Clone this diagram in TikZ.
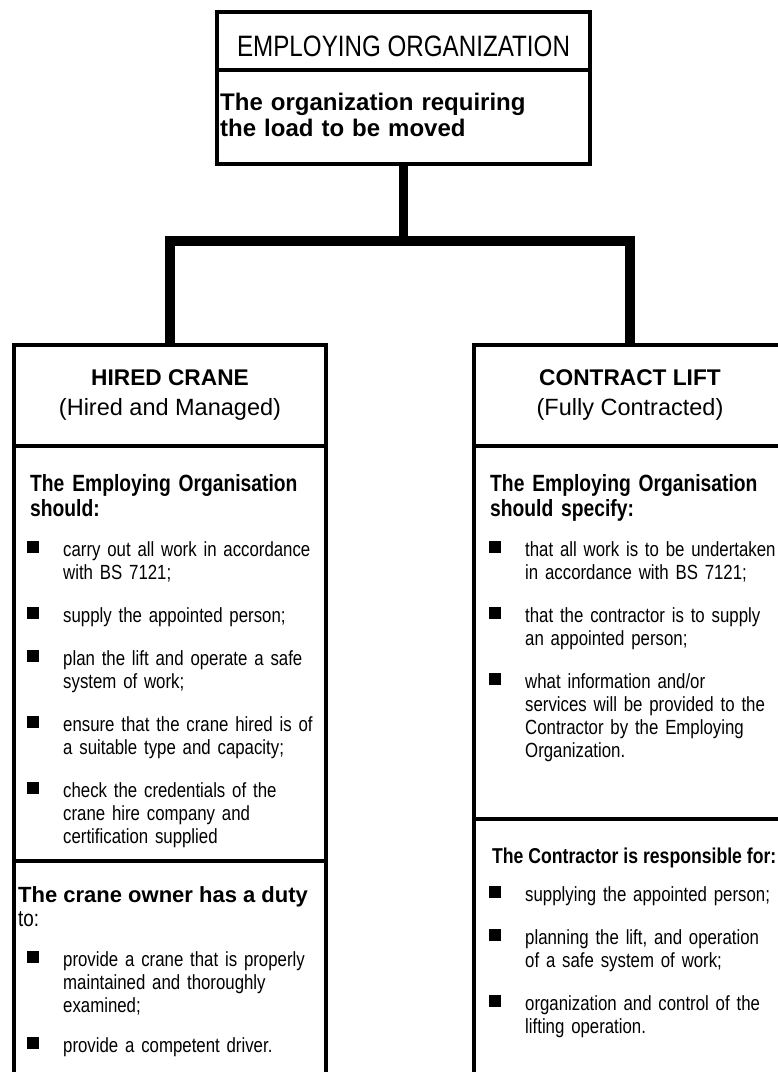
\documentclass[tikz,border=0pt]{standalone}
\usepackage{fontspec}
\setmainfont{Liberation Sans}
\newfontfamily\narrowsf[FakeStretch=0.82,WordSpace=0.8]{Liberation Sans}
\newfontfamily\titlesf[FakeStretch=0.82]{Liberation Sans}
\newcommand{\fsz}[2]{\fontsize{#1}{#2}\selectfont}
% square bullet and its text
\newcommand{\sqitem}[4]{%
  \fill (#2-36,#3-15) rectangle ++(12,12);
  \node[item] (#1) at (#2,#3) {#4};}
\begin{document}
\begin{tikzpicture}[x=1pt,y=-1pt,line join=miter,
  box/.style={draw,line width=4pt,inner sep=0pt},
  rule/.style={line width=4pt},
  link/.style={line width=9.5pt},
  item/.style={anchor=base west,inner sep=0pt,text width=280pt,align=left,font=\narrowsf\fsz{20.5}{23}},
  lead/.style={anchor=base west,inner sep=0pt,text width=290pt,align=left,font=\narrowsf\bfseries\fsz{23.5}{25}},
  head/.style={anchor=base,inner sep=0pt,font=\bfseries\fsz{22.7}{26}},
  sub/.style={anchor=base,inner sep=0pt,font=\fsz{23.5}{26}}]
\useasboundingbox (0,0) rectangle (778,1072);
% boxes
\node[box,minimum width=373pt,minimum height=152pt] (emp) at (403.5,88) {};
\node[box,minimum width=312pt,minimum height=760pt] (hired) at (170,725) {};
\node[box,minimum width=312pt,minimum height=760pt] (contract) at (630,725) {};
% connectors
\coordinate (fork) at (403.5,241);
\draw[link] (emp.south) -- (fork);
\draw[link,line width=10pt] (hired.north) |- (fork) -| (contract.north);
% dividers
\coordinate (d0) at (0,70);
\coordinate (d1) at (0,446);
\coordinate (d2) at (0,861);
\coordinate (d3) at (0,819);
\draw[rule] (emp.west |- d0) -- (emp.east |- d0);
\draw[rule] (hired.west |- d1) -- (hired.east |- d1);
\draw[rule] (contract.west |- d1) -- (contract.east |- d1);
\draw[rule] (hired.west |- d2) -- (hired.east |- d2);
\draw[rule] (contract.west |- d3) -- (contract.east |- d3);
% top box
\node[anchor=base,inner sep=0pt,font=\titlesf\fsz{29.5}{32}] (title) at (403.5,56) {EMPLOYING ORGANIZATION};
\node[anchor=base west,inner sep=0pt,text width=350pt,align=left,font=\bfseries\fsz{24}{26}] (purpose) at (220,110) {The organization requiring\\the load to be moved};
% hired crane
\node[head] (hiredhd) at (170,385) {HIRED CRANE};
\node[sub] (hiredsub) at (170,415) {(Hired and Managed)};
\node[lead] (hiredlead) at (30,491) {The Employing Organisation\\should:};
\sqitem{h1}{63}{556}{carry out all work in accordance\\with BS 7121;}
\sqitem{h2}{63}{622}{supply the appointed person;}
\sqitem{h3}{63}{665}{plan the lift and operate a safe\\system of work;}
\sqitem{h4}{63}{731}{ensure that the crane hired is of\\a suitable type and capacity;}
\sqitem{h5}{63}{797}{check the credentials of the\\crane hire company and\\certification supplied}
\node[anchor=base west,inner sep=0pt,font=\bfseries\fsz{22}{24}] (owner) at (18,902) {The crane owner has a duty};
\node[anchor=base west,inner sep=0pt,font=\narrowsf\fsz{23}{24}] (ownerto) at (18,926) {to:};
\sqitem{o1}{63}{966}{provide a crane that is properly\\maintained and thoroughly\\examined;}
\sqitem{o2}{63}{1052}{provide a competent driver.}
% contract lift
\node[head] (contracthd) at (630,385) {CONTRACT LIFT};
\node[sub] (contractsub) at (630,415) {(Fully Contracted)};
\node[lead] (contractlead) at (490,491) {The Employing Organisation\\should specify:};
\sqitem{c1}{525}{556}{that all work is to be undertaken\\in accordance with BS 7121;}
\sqitem{c2}{525}{622}{that the contractor is to supply\\an appointed person;}
\sqitem{c3}{525}{688}{what information and/or\\services will be provided to the\\Contractor by the Employing\\Organization.}
\node[anchor=base west,inner sep=0pt,font=\narrowsf\bfseries\fsz{21.5}{23}] (contractor) at (492,863) {The Contractor is responsible for:};
\sqitem{k1}{525}{901}{supplying the appointed person;}
\sqitem{k2}{525}{944}{planning the lift, and operation\\of a safe system of work;}
\sqitem{k3}{525}{1010}{organization and control of the\\lifting operation.}
\end{tikzpicture}
\end{document}
